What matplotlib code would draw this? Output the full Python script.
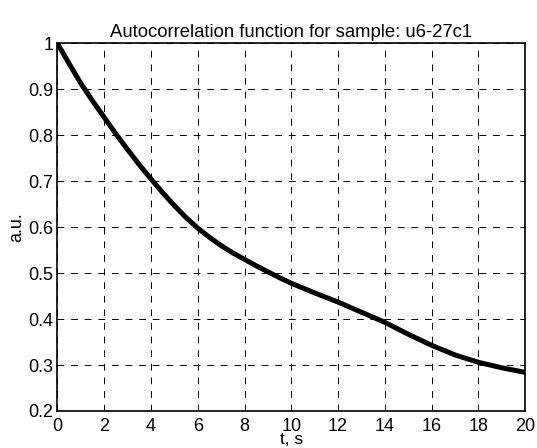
import numpy as np
import matplotlib
matplotlib.use('Agg')
import matplotlib.pyplot as plt

plt.rcParams['font.family'] = ['Liberation Sans', 'DejaVu Sans']

# autocorrelation values
t = [0, 0.5, 1, 1.5, 2, 2.5, 3, 3.5, 4, 4.5, 5, 5.5, 6, 6.5, 7, 7.5, 8, 8.5, 9, 9.5, 10,
     11, 12, 13, 14, 15, 16, 17, 18, 19, 20]
acf = [1.0, 0.956, 0.913, 0.875, 0.839, 0.803, 0.769, 0.736, 0.705, 0.675, 0.647,
       0.621, 0.598, 0.578, 0.56, 0.544, 0.53, 0.516, 0.503, 0.49, 0.478,
       0.457, 0.437, 0.415, 0.393, 0.367, 0.343, 0.322, 0.306, 0.294, 0.284]

xticks = list(range(0, 21, 2))
yticks = [0.2, 0.3, 0.4, 0.5, 0.6, 0.7, 0.8, 0.9, 1.0]
yticklabels = ['0.2', '0.3', '0.4', '0.5', '0.6', '0.7', '0.8', '0.9', '1']

fig = plt.figure(figsize=(5.37, 4.48), dpi=100)
ax = fig.add_axes([0.107, 0.0826, 0.871, 0.8204])

ax.plot(t, acf, color='black', linewidth=3.6, solid_capstyle='round',
        solid_joinstyle='round')

ax.set_xlim(0, 20)
ax.set_ylim(0.2, 1.0)
ax.set_xticks(xticks)
ax.set_yticks(yticks)
ax.set_yticklabels(yticklabels)
ax.tick_params(length=0, labelsize=13)
ax.tick_params(axis='y', pad=3)
ax.tick_params(axis='x', pad=5)
ax.grid(True, color='black', linestyle=(0, (7, 7)), linewidth=0.7)
for s in ax.spines.values():
    s.set_linewidth(1.2)

ax.set_title('Autocorrelation function for sample: u6-27c1', fontsize=13.3, pad=5)
ax.set_xlabel('t, s', fontsize=12.5, labelpad=-2)
ax.set_ylabel('a.u.', fontsize=13, labelpad=2)

fig.savefig('out.png', dpi=100)
